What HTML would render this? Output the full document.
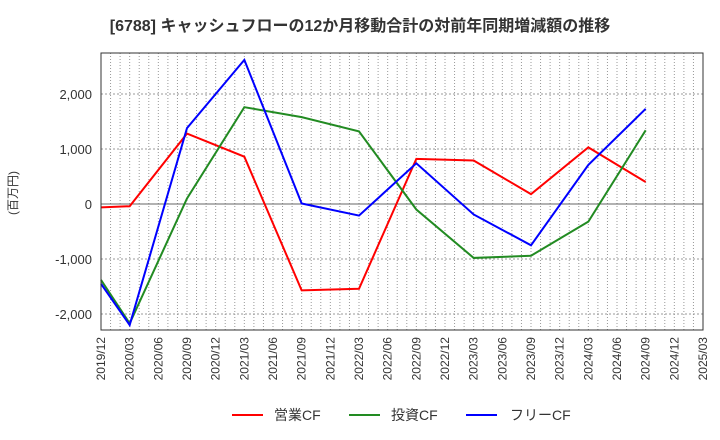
<!DOCTYPE html>
<html><head><meta charset="utf-8"><style>
body{margin:0;background:#fff}
svg{display:block;font-family:"Liberation Sans","Noto Sans CJK JP",sans-serif}
</style></head><body>
<svg id="c" width="720" height="440" xmlns="http://www.w3.org/2000/svg">
<text x="360" y="31" text-anchor="middle" font-size="16" font-weight="bold" fill="#333">[6788]  キャッシュフローの12か月移動合計の対前年同期増減額の推移</text>
<text transform="translate(17,193) rotate(-90)" text-anchor="middle" font-size="12" fill="#333">(百万円)</text>
<g id="grid"></g><g id="series"></g><g id="axes"></g>
<g>
<line x1="232" y1="415" x2="263" y2="415" stroke="#f00" stroke-width="2"/>
<text x="274" y="420" font-size="14" fill="#333">営業CF</text>
<line x1="349" y1="415" x2="380" y2="415" stroke="#228b22" stroke-width="2"/>
<text x="391" y="420" font-size="14" fill="#333">投資CF</text>
<line x1="466" y1="415" x2="497" y2="415" stroke="#00f" stroke-width="2"/>
<text x="510" y="420" font-size="14" fill="#333">フリーCF</text>
</g>
</svg>
<script>
const categories=["2019/12","2020/03","2020/06","2020/09","2020/12","2021/03","2021/06","2021/09","2021/12","2022/03","2022/06","2022/09","2022/12","2023/03","2023/06","2023/09","2023/12","2024/03","2024/06","2024/09","2024/12","2025/03"];
const pointIdx=[0,1,3,5,7,9,11,13,15,17,19];
const operatingCF=[-60,-40,1280,860,-1570,-1540,820,790,180,1030,400];
const investingCF=[-1380,-2170,100,1760,1580,1320,-100,-980,-940,-320,1340];
const freeCF=[-1450,-2200,1380,2620,10,-210,740,-190,-750,710,1730];
const yTicks=[-2000,-1000,0,1000,2000];
const yTickLabels=["-2,000","-1,000","0","1,000","2,000"];
const NS="http://www.w3.org/2000/svg";
const L=101,R=703,T=53,B=330,yMin=-2290,yMax=2745;
const xs=i=>L+(R-L)*i/(categories.length-1);
const ys=v=>B-(v-yMin)/(yMax-yMin)*(B-T);
function mk(p,tag,a){const e=document.createElementNS(NS,tag);for(const k in a)e.setAttribute(k,a[k]);p.appendChild(e);return e;}
const grid=document.getElementById('grid'),axes=document.getElementById('axes'),ser=document.getElementById('series');
const months=(categories.length-1)*3;
for(let m=1;m<months;m++){const x=L+(R-L)*m/months;
const g=mk(grid,'line',{x1:x,x2:x,y1:T,y2:B,stroke:'#999','stroke-dasharray':'1,2','stroke-width':1});

}
yTicks.forEach((v,i)=>{const y=ys(v);
const g=mk(grid,'line',{x1:L,x2:R,y1:y,y2:y,stroke:v===0?'#666':'#999','stroke-dasharray':v===0?'':'2,2','stroke-width':1});


const t=mk(axes,'text',{x:L-9,y:y+5,'text-anchor':'end','font-size':13,fill:'#333'});t.textContent=yTickLabels[i];

});
categories.forEach((c,i)=>{const x=xs(i);
const t=mk(axes,'text',{transform:`translate(${x+4},337) rotate(-90)`,'text-anchor':'end','font-size':12,fill:'#333'});t.textContent=c;

});
const box=mk(axes,'rect',{x:L,y:T,width:R-L,height:B-T,fill:'none',stroke:'#333','stroke-width':1});


[[operatingCF,'#f00','operating-cf-line'],[investingCF,'#228b22','investing-cf-line'],[freeCF,'#00f','free-cf-line']].forEach(([d,c,n])=>{
const pts=d.map((v,k)=>xs(pointIdx[k])+','+ys(v)).join(' ');
const p=mk(ser,'polyline',{points:pts,fill:'none',stroke:c,'stroke-width':2});

});
</script>
</body></html>
